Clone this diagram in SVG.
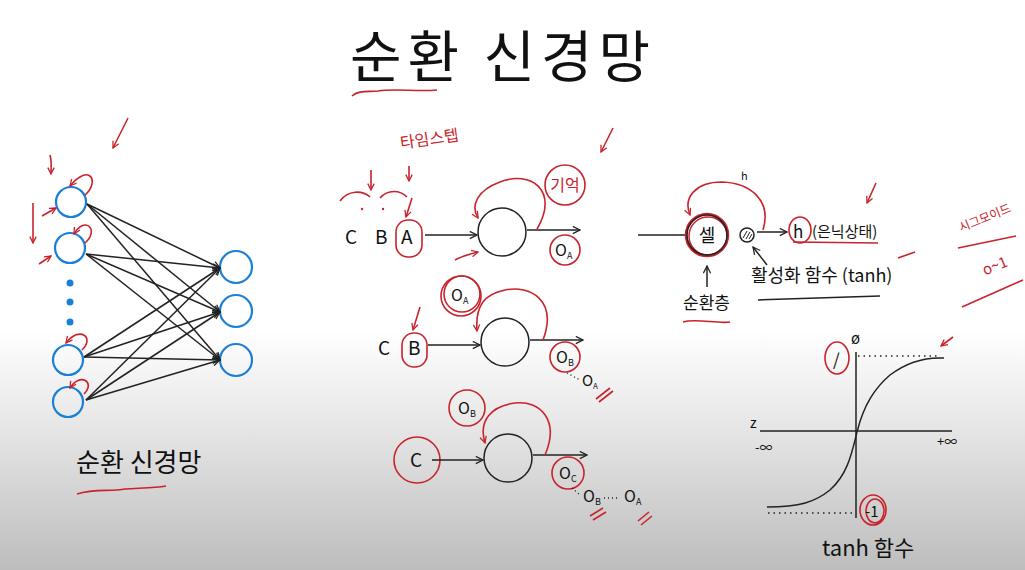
<svg xmlns="http://www.w3.org/2000/svg" width="1025" height="570" viewBox="0 0 1025 570">
<defs>
<linearGradient id="bg" x1="0" y1="0" x2="0" y2="1">
<stop offset="0" stop-color="#ffffff"/>
<stop offset="0.58" stop-color="#ffffff"/>
<stop offset="0.75" stop-color="#e6e6e6"/>
<stop offset="1" stop-color="#bdbdbd"/>
</linearGradient>
<marker id="ak" viewBox="0 0 10 10" refX="9" refY="5" markerWidth="9" markerHeight="9" markerUnits="userSpaceOnUse" orient="auto">
<path d="M1,1 L9,5 L1,9" fill="none" stroke="#222" stroke-width="1.4"/>
</marker>
<marker id="ar" viewBox="0 0 10 10" refX="9" refY="5" markerWidth="8" markerHeight="8" markerUnits="userSpaceOnUse" orient="auto">
<path d="M1,1 L9,5 L1,9" fill="none" stroke="#c8232c" stroke-width="1.6"/>
</marker>
<style>
.bl{fill:none;stroke:#1a7fd6;stroke-width:2.2}
.bk{fill:none;stroke:#222;stroke-width:1.5}
.rd{fill:none;stroke:#c8232c;stroke-width:1.6}
.t{font-family:"Noto Sans CJK KR","Liberation Sans",sans-serif;fill:#111}
.tr{font-family:"Noto Sans CJK KR","Liberation Sans",sans-serif;fill:#c8232c}
</style>
</defs>
<rect x="0" y="0" width="1025" height="570" fill="url(#bg)"/>

<g id="title">
<text class="t" x="350" y="77" font-size="56" letter-spacing="6">순환 신경망</text>
<path class="rd" d="M352,96 C358,90 368,92 378,91 C395,88 415,92 437,90"/>
</g>

<!-- Left network -->
<g id="left-inputs">
<circle class="bl" cx="71" cy="202" r="15"/>
<circle class="bl" cx="70" cy="248" r="15"/>
<circle cx="70" cy="283" r="3.5" fill="#1a7fd6"/>
<circle cx="70" cy="302" r="3.5" fill="#1a7fd6"/>
<circle cx="70" cy="322" r="3.5" fill="#1a7fd6"/>
<circle class="bl" cx="68" cy="360" r="15"/>
<circle class="bl" cx="68" cy="402" r="15"/>
</g>
<g id="left-outputs">
<circle class="bl" cx="236" cy="267" r="16"/>
<circle class="bl" cx="236" cy="311" r="16"/>
<circle class="bl" cx="236" cy="360" r="16"/>
</g>
<g id="left-connectors">
<path class="bk" marker-end="url(#ak)" d="M87,204 L220,268"/>
<path class="bk" marker-end="url(#ak)" d="M87,204 L220,312"/>
<path class="bk" marker-end="url(#ak)" d="M87,204 L220,360"/>
<path class="bk" marker-end="url(#ak)" d="M86,254 L220,268"/>
<path class="bk" marker-end="url(#ak)" d="M86,254 L220,312"/>
<path class="bk" marker-end="url(#ak)" d="M86,254 L220,360"/>
<path class="bk" marker-end="url(#ak)" d="M84,357 L220,268"/>
<path class="bk" marker-end="url(#ak)" d="M84,357 L220,312"/>
<path class="bk" marker-end="url(#ak)" d="M84,357 L220,360"/>
<path class="bk" marker-end="url(#ak)" d="M86,400 L220,268"/>
<path class="bk" marker-end="url(#ak)" d="M86,400 L220,312"/>
<path class="bk" marker-end="url(#ak)" d="M86,400 L220,360"/>
</g>
<g id="left-red">
<path class="rd" marker-end="url(#ar)" d="M85,195 C100,182 90,162 70,186"/>
<path class="rd" marker-end="url(#ar)" d="M85,243 C100,230 85,215 74,234"/>
<path class="rd" marker-end="url(#ar)" d="M82,350 C95,338 80,325 66,343"/>
<path class="rd" marker-end="url(#ar)" d="M84,394 C96,382 80,372 70,388"/>
<path class="rd" marker-end="url(#ar)" d="M128,118 L113,148"/>
<path class="rd" marker-end="url(#ar)" d="M50,155 C52,162 51,168 51,174"/>
<path class="rd" marker-end="url(#ar)" d="M33,203 L33,243"/>
<path class="rd" marker-end="url(#ar)" d="M42,216 L56,208"/>
<path class="rd" marker-end="url(#ar)" d="M39,264 L51,256"/>
</g>
<g id="left-label">
<text class="t" x="76" y="472" font-size="26">순환 신경망</text>
<path class="rd" d="M77,494 C95,488 110,492 125,489 C140,488 155,488 166,486"/>
</g>

<!-- Middle row 1 -->
<g id="row1">
<text class="t" x="345" y="244" font-size="19">C</text>
<text class="t" x="375" y="244" font-size="19">B</text>
<text class="t" x="401" y="244" font-size="19">A</text>
<rect class="rd" x="396" y="220" width="26" height="37" rx="12"/>
<circle class="bk" cx="502" cy="232" r="24"/>
<path class="bk" marker-end="url(#ak)" d="M425,235 L477,235"/>
<path class="bk" marker-end="url(#ak)" d="M527,230 L580,230"/>
<path class="rd" marker-end="url(#ar)" d="M537,229 C560,190 530,170 500,182 C478,190 470,205 478,218"/>
<circle class="rd" cx="565" cy="250" r="15"/>
<text class="t" x="555" y="256" font-size="16">O</text><text class="t" x="567" y="259" font-size="9">A</text>
<circle class="rd" cx="565" cy="185" r="20"/>
<text class="tr" x="565" y="191" font-size="16" text-anchor="middle">기억</text>
<text class="tr" x="400" y="146" font-size="16" transform="rotate(-8 420 140)">타임스텝</text>
<path class="rd" marker-end="url(#ar)" d="M409,166 L409,181"/>
<path class="rd" marker-end="url(#ar)" d="M412,198 L406,217"/>
<path class="rd" marker-end="url(#ar)" d="M371,170 L371,190"/>
<path class="rd" d="M340,201 C348,190 362,190 370,197"/>
<path class="rd" d="M380,198 C388,189 400,190 407,197"/>
<circle cx="362" cy="209" r="1.2" fill="#c8232c"/>
<circle cx="383" cy="209" r="1.2" fill="#c8232c"/>
<path class="rd" marker-end="url(#ar)" d="M455,260 C462,256 470,254 478,252"/>
<path class="rd" marker-end="url(#ar)" d="M613,128 L601,152"/>
</g>

<!-- Middle row 2 -->
<g id="row2">
<text class="t" x="378" y="355" font-size="19">C</text>
<text class="t" x="408" y="355" font-size="19">B</text>
<rect class="rd" x="402" y="333" width="25" height="34" rx="12"/>
<path class="rd" marker-end="url(#ar)" d="M420,307 L413,330"/>
<circle class="bk" cx="505" cy="342" r="24"/>
<path class="bk" marker-end="url(#ak)" d="M428,345 L480,345"/>
<path class="bk" marker-end="url(#ak)" d="M530,340 L583,340"/>
<path class="rd" marker-end="url(#ar)" d="M543,340 C558,300 530,285 505,290 C485,294 475,305 477,331"/>
<circle class="rd" cx="461" cy="296" r="20"/>
<circle class="rd" cx="462" cy="294" r="18"/>
<text class="t" x="451" y="301" font-size="16">O</text><text class="t" x="463" y="304" font-size="9">A</text>
<circle class="rd" cx="565" cy="357" r="15"/>
<text class="t" x="556" y="363" font-size="16">O</text><text class="t" x="568" y="366" font-size="9">B</text>
<path d="M567,373 L580,380" stroke="#222" stroke-width="1.4" stroke-dasharray="1,3" fill="none"/>
<text class="t" x="582" y="386" font-size="15">O</text><text class="t" x="593" y="389" font-size="8">A</text>
<path class="rd" d="M596,399 L610,388 M599,402 L613,391"/>
</g>

<!-- Middle row 3 -->
<g id="row3">
<circle class="rd" cx="417" cy="460" r="23"/>
<text class="t" x="410" y="467" font-size="19">C</text>
<circle class="bk" cx="508" cy="458" r="24"/>
<path class="bk" marker-end="url(#ak)" d="M432,460 L483,460"/>
<path class="bk" marker-end="url(#ak)" d="M533,455 L587,455"/>
<path class="rd" marker-end="url(#ar)" d="M545,455 C560,420 540,400 515,403 C492,406 478,420 485,443"/>
<circle class="rd" cx="467" cy="408" r="18"/>
<text class="t" x="458" y="414" font-size="16">O</text><text class="t" x="470" y="417" font-size="9">B</text>
<circle class="rd" cx="568" cy="473" r="16"/>
<text class="t" x="559" y="479" font-size="16">O</text><text class="t" x="571" y="482" font-size="9">C</text>
<path d="M572,488 L580,495" stroke="#222" stroke-width="1.4" stroke-dasharray="1,3" fill="none"/>
<text class="t" x="583" y="502" font-size="16">O</text><text class="t" x="595" y="505" font-size="9">B</text>
<path d="M604,498 L618,498" stroke="#222" stroke-width="1.4" stroke-dasharray="1,3" fill="none"/>
<text class="t" x="624" y="502" font-size="16">O</text><text class="t" x="636" y="505" font-size="9">A</text>
<path class="rd" d="M590,516 L603,508 M593,520 L606,512"/>
<path class="rd" d="M638,521 L649,512 M641,525 L652,516"/>
</g>

<!-- Right: cell -->
<g id="cell">
<path class="bk" d="M638,235 L687,235"/>
<circle cx="707" cy="235" r="21" fill="none" stroke="#c8232c" stroke-width="2.5"/>
<circle cx="708" cy="236" r="19" fill="none" stroke="#c8232c" stroke-width="1.5"/>
<circle class="bk" cx="707" cy="235" r="20" stroke-width="1.2"/>
<text class="t" x="707" y="242" font-size="18" text-anchor="middle">셀</text>
<circle class="bk" cx="747" cy="235" r="7"/>
<path d="M743,238 L747,231 M746,239 L750,232 M749,239 L752,234" stroke="#222" stroke-width="1" fill="none"/>
<path class="bk" marker-end="url(#ak)" d="M757,232 L787,232"/>
<path class="rd" marker-end="url(#ar)" d="M763,230 C772,200 750,183 722,182 C695,182 683,198 690,215"/>
<text class="t" x="741" y="180" font-size="11">h</text>
<text class="t" x="793" y="238" font-size="17">h</text>
<ellipse class="rd" cx="800" cy="230" rx="11" ry="13"/>
<text class="t" x="812" y="237" font-size="15">(은닉상태)</text>
<path class="rd" d="M793,242 L878,243"/>
<path class="rd" marker-end="url(#ar)" d="M876,183 L867,203"/>
<path class="bk" marker-end="url(#ak)" d="M707,287 L707,266"/>
<text class="t" x="683" y="309" font-size="17">순환층</text>
<path class="rd" d="M683,322 C695,318 718,324 730,322"/>
<path class="bk" marker-end="url(#ak)" d="M767,265 L753,247"/>
<text class="t" x="751" y="282" font-size="18">활성화 함수 (tanh)</text>
<path class="bk" d="M758,300 L880,296"/>
</g>

<g id="sigmoid-note">
<path class="rd" d="M898,258 L915,252"/>
<text class="tr" x="985" y="222" font-size="12" text-anchor="middle" transform="rotate(-22 985 218)">시그모이드</text>
<path class="rd" d="M958,248 L1016,236"/>
<text class="tr" x="995" y="271" font-size="15" text-anchor="middle" transform="rotate(-22 995 266)">o~1</text>
<path class="rd" d="M962,307 L1023,280"/>
</g>

<!-- tanh graph -->
<g id="tanh-graph">
<path class="bk" d="M856,352 L856,518"/>
<path class="bk" d="M760,431 L952,431"/>
<path d="M858,356 L940,356" stroke="#222" stroke-width="1.4" stroke-dasharray="1.5,4" fill="none"/>
<path d="M768,513 L853,513" stroke="#222" stroke-width="1.4" stroke-dasharray="1.5,4" fill="none"/>
<path class="bk" d="M767,507 C800,507 815,502 830,490 C848,474 852,452 857,432 C864,404 875,388 890,375 C907,362 925,357 944,358"/>
<text class="t" x="851" y="344" font-size="15">ø</text>
<text class="t" x="750" y="428" font-size="14">z</text>
<text class="t" x="755" y="452" font-size="13">-∞</text>
<text class="t" x="937" y="446" font-size="13">+∞</text>
<ellipse class="rd" cx="837" cy="358" rx="12" ry="16"/>
<text class="t" x="833" y="366" font-size="17">/</text>
<ellipse class="rd" cx="873" cy="510" rx="13" ry="15"/>
<ellipse class="rd" cx="875" cy="511" rx="9" ry="12"/>
<text class="t" x="865" y="517" font-size="15">-1</text>
<path class="rd" marker-end="url(#ar)" d="M953,337 L941,346"/>
<text class="t" x="822" y="556" font-size="22">tanh 함수</text>
</g>
</svg>
